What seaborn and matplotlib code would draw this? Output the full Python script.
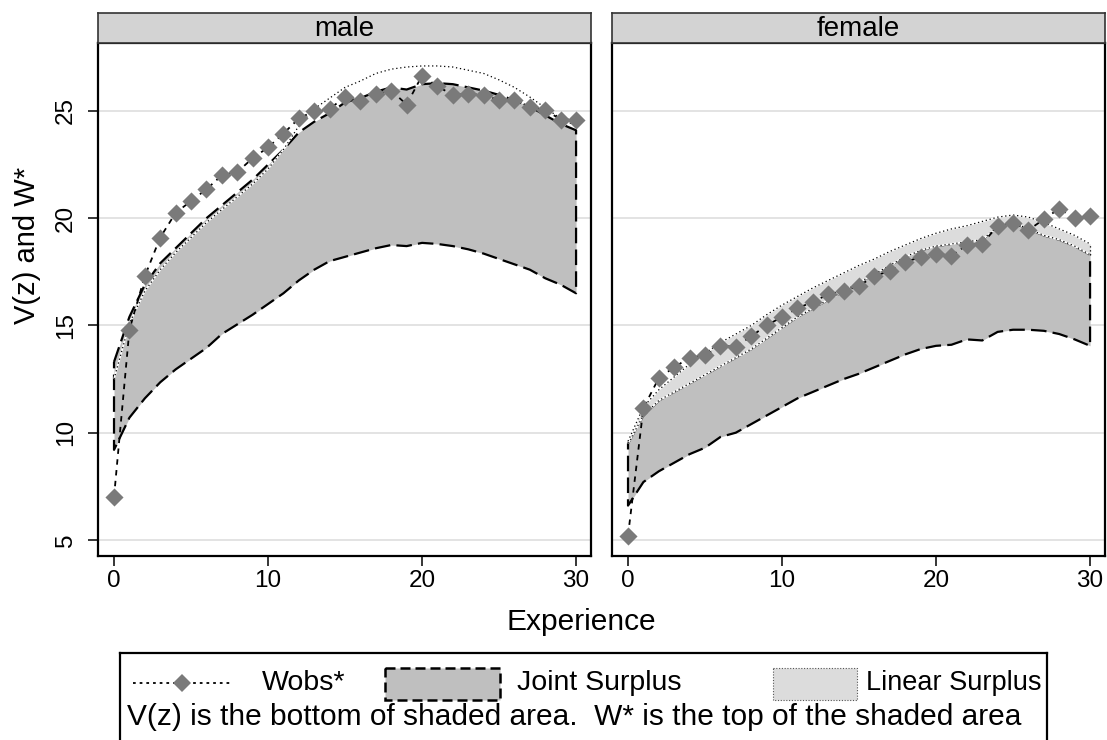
import matplotlib
matplotlib.use('Agg')
import matplotlib.pyplot as plt
from matplotlib.patches import Rectangle
import numpy as np
import pandas as pd
import seaborn as sns

# experience 0..30
exper = list(range(31))

male_wobs = [7.0, 14.8, 17.3, 19.1, 20.25, 20.8, 21.35, 22.0, 22.15, 22.8, 23.3,
             23.95, 24.65, 25.0, 25.1, 25.65, 25.45, 25.8, 25.95, 25.3, 26.65,
             26.15, 25.75, 25.8, 25.75, 25.5, 25.5, 25.2, 25.05, 24.6, 24.6]
male_joint_low = [9.2, 10.7, 11.6, 12.35, 12.95, 13.45, 13.95, 14.6, 15.05, 15.5, 16.0,
                  16.5, 17.1, 17.6, 18.0, 18.2, 18.4, 18.6, 18.75, 18.7, 18.85,
                  18.8, 18.7, 18.55, 18.35, 18.1, 17.85, 17.6, 17.2, 16.9, 16.5]
male_joint_high = [13.3, 15.4, 16.9, 17.9, 18.6, 19.3, 20.0, 20.6, 21.2, 21.8, 22.5,
                   23.2, 24.0, 24.5, 24.9, 25.4, 25.6, 25.9, 26.1, 26.0, 26.25,
                   26.3, 26.25, 26.1, 25.95, 25.75, 25.5, 25.2, 24.8, 24.4, 24.1]
male_lin_high = [12.5, 15.1, 16.6, 17.6, 18.4, 19.1, 19.8, 20.4, 21.0, 21.6, 22.3,
                 23.2, 24.3, 25.1, 25.6, 26.1, 26.4, 26.75, 26.95, 27.05, 27.1,
                 27.1, 27.05, 26.9, 26.75, 26.45, 26.1, 25.65, 25.15, 24.65, 24.3]

female_wobs = [5.2, 11.15, 12.55, 13.05, 13.5, 13.6, 14.05, 14.0, 14.5, 15.0, 15.4,
               15.8, 16.1, 16.45, 16.6, 16.85, 17.3, 17.55, 17.95, 18.2, 18.35,
               18.25, 18.75, 18.8, 19.65, 19.8, 19.45, 19.95, 20.45, 20.0, 20.1]
female_joint_low = [6.6, 7.7, 8.2, 8.6, 9.0, 9.3, 9.8, 10.0, 10.4, 10.8, 11.2,
                    11.6, 11.9, 12.2, 12.5, 12.75, 13.05, 13.35, 13.65, 13.9, 14.05,
                    14.1, 14.35, 14.3, 14.7, 14.8, 14.8, 14.75, 14.6, 14.35, 14.05]
female_joint_high = [9.5, 10.8, 11.5, 11.9, 12.3, 12.7, 13.1, 13.5, 13.9, 14.4, 14.9,
                     15.4, 15.8, 16.2, 16.6, 17.0, 17.4, 17.8, 18.2, 18.5, 18.7,
                     18.8, 18.9, 19.0, 19.6, 19.8, 19.5, 19.2, 19.0, 18.7, 18.3]
female_lin_high = [9.6, 11.2, 12.0, 12.6, 13.2, 13.7, 14.2, 14.6, 15.0, 15.5, 15.95,
                   16.35, 16.75, 17.1, 17.45, 17.8, 18.1, 18.45, 18.75, 19.05, 19.3,
                   19.5, 19.65, 19.85, 20.05, 20.15, 20.05, 19.8, 19.5, 19.2, 18.8]

panels = ['male', 'female']
y_ticks = [5, 10, 15, 20, 25]
x_ticks = [0, 10, 20, 30]

DARK = '#bfbfbf'
LIGHT = '#dcdcdc'
MARK = '#7a7a7a'

sns.set_style('white')
plt.rcParams['font.family'] = ['Liberation Sans', 'DejaVu Sans']
plt.rcParams['text.color'] = 'black'
plt.rcParams['xtick.color'] = 'black'
plt.rcParams['ytick.color'] = 'black'
plt.rcParams['axes.labelcolor'] = 'black'

frames = {
    'male': pd.DataFrame({'exper': exper, 'wobs': male_wobs, 'jlo': male_joint_low,
                          'jhi': male_joint_high, 'lhi': male_lin_high}),
    'female': pd.DataFrame({'exper': exper, 'wobs': female_wobs, 'jlo': female_joint_low,
                            'jhi': female_joint_high, 'lhi': female_lin_high}),
}

W, H = 1107, 740
fig = plt.figure(figsize=(W / 100, H / 100), dpi=100)

# panel boxes in pixels: left, right
boxes = {'male': (98, 591), 'female': (612, 1105)}
top_px, bot_px, strip_px = 43, 556, 30


def dotted(ax, x, y, z):
    ax.plot(x, y, color='white', lw=1.3, zorder=z, solid_capstyle='butt')
    ax.plot(x, y, color='black', lw=0.9, ls=(0, (1, 2.2)), zorder=z + 0.1)


for name in panels:
    l, r = boxes[name]
    ax = fig.add_axes([l / W, 1 - bot_px / H, (r - l) / W, (bot_px - top_px) / H])
    df = frames[name]
    x = df['exper'].to_numpy()

    ax.set_xlim(-1.04, 30.97)
    ax.set_ylim(4.25, 28.17)
    for yt in y_ticks:
        ax.axhline(yt, color='#e3e3e3', lw=1.4, zorder=0)

    # joint surplus area
    ax.fill_between(x, df['jlo'], df['jhi'], color=DARK, lw=0, zorder=1)
    ox = np.concatenate([x, x[::-1], x[:1]])
    oy = np.concatenate([df['jhi'], df['jlo'][::-1], df['jhi'][:1]])
    ax.plot(ox, oy, color='black', lw=1.6, ls=(0, (7, 2.8)), zorder=2)

    if name == 'female':
        ax.fill_between(x, df['jhi'], df['lhi'], color=LIGHT, lw=0, zorder=2.5)
        dotted(ax, x, df['jhi'], 2.6)
        ax.plot([x[-1], x[-1]], [df['jhi'].iloc[-1], df['lhi'].iloc[-1]],
                color='black', lw=0.9, ls=(0, (1, 2.2)), zorder=2.7)
    dotted(ax, x, df['lhi'], 3)

    sns.lineplot(data=df, x='exper', y='wobs', ax=ax, color='black', lw=1.3,
                 ls=(0, (3, 3)), sort=False, errorbar=None, zorder=4)
    sns.scatterplot(data=df, x='exper', y='wobs', ax=ax, marker='D', s=85,
                    color=MARK, linewidth=0, zorder=5)

    ax.set_xlabel('')
    ax.set_ylabel('')
    ax.set_xticks(x_ticks)
    ax.set_yticks(y_ticks)
    ax.tick_params(axis='x', length=7, width=1.1, color='black', labelsize=17.5,
                   pad=3, bottom=True, direction='out')
    if name == 'male':
        ax.tick_params(axis='y', length=7, width=1.1, color='black', labelsize=17.5,
                       pad=8, left=True, direction='out')
        for t in ax.get_yticklabels():
            t.set_rotation(90)
            t.set_va('center')
    else:
        ax.tick_params(axis='y', left=False, labelleft=False)
    for s in ax.spines.values():
        s.set_color('black')
        s.set_linewidth(1.6)

    # strip
    sax = fig.add_axes([l / W, 1 - top_px / H, (r - l) / W, strip_px / H])
    sax.set_facecolor('#d3d3d3')
    sax.set_xticks([])
    sax.set_yticks([])
    for s in sax.spines.values():
        s.set_color('#333333')
        s.set_linewidth(1.2)
    sax.text(0.5, 0.45, name, ha='center', va='center', fontsize=20,
             transform=sax.transAxes)

fig.text(581 / W, 1 - 622 / H, 'Experience', ha='center', va='center', fontsize=21.5)
fig.text(27 / W, 1 - 245 / H, 'V(z) and W*', ha='center', va='center',
         rotation=90, fontsize=21)

# legend box
lax = fig.add_axes([120 / W, 1 - 746 / H, (1047 - 120) / W, (746 - 653) / H])
lax.set_xlim(120, 1047)
lax.set_ylim(746, 653)
lax.set_xticks([])
lax.set_yticks([])
for s in lax.spines.values():
    s.set_color('black')
    s.set_linewidth(1.6)
lax.plot([133, 232], [683, 683], color='black', lw=1.3, ls=(0, (1.5, 2.2)))
lax.plot([182], [683], marker='D', ms=9, color=MARK, mew=0)
lax.text(262, 683, 'Wobs*', va='center', fontsize=20.5)
lax.add_patch(Rectangle((385, 668), 115, 32, facecolor=DARK, edgecolor='black',
                        lw=1.8, ls=(0, (4, 2))))
lax.text(517, 683, 'Joint Surplus', va='center', fontsize=20.5)
lax.add_patch(Rectangle((773, 668), 84, 32, facecolor=LIGHT, edgecolor='#555555',
                        lw=0.8, ls=(0, (1, 1.5))))
lax.text(866, 683, 'Linear Surplus', va='center', fontsize=19.5)
lax.text(127, 717, 'V(z) is the bottom of shaded area.  W* is the top of the shaded area',
         va='center', fontsize=21.5)

fig.savefig('out.png', dpi=100)
